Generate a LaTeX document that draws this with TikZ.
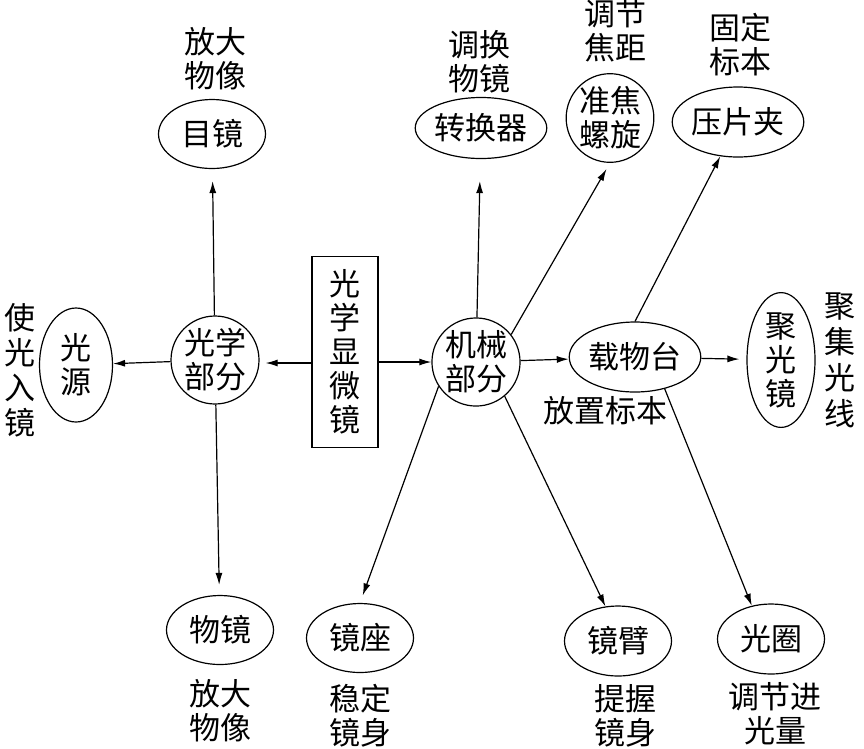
\documentclass[tikz,border=0pt]{standalone}
\usepackage{fontspec}
\setmainfont{Noto Sans CJK SC}
\usetikzlibrary{arrows.meta}
\usetikzlibrary{shapes.geometric}
\tikzset{
	x=1pt, y=-1pt,
	every path/.style = {line width=1.2pt},
	every node/.style = {inner sep=0pt, align=center, font=\fontsize{31pt}{34pt}\selectfont},
	part/.style = {draw, circle, minimum size=88pt},
	organ/.style = {draw, ellipse, minimum width=107pt, minimum height=69pt},
	upright/.style = {draw, ellipse, minimum width=70pt, minimum height=113pt},
	arr/.style = {-{Latex[length=12pt,width=7pt]}}
}
\begin{document}
\begin{tikzpicture}
	\useasboundingbox (0,0) rectangle (864,748);
	% centre parts
	\node (micro) [draw, minimum width=66pt, minimum height=191pt] at (345,352) {光\\学\\显\\微\\镜};
	\node (optic) [part] at (215,360) {光学\\部分};
	\node (mech) [part] at (476,362) {机械\\部分};
	% optical side
	\node (eyep) [organ] at (212,134) {目镜};
	\node (objv) [organ] at (220,630) {物镜};
	\node (lamp) [upright, minimum width=73pt, minimum height=114pt] at (76,365) {光\\源};
	% mechanical side
	\node (turret) [organ, minimum width=106pt, minimum height=61pt] at (481,128) {转换器};
	\node (focus) [organ, minimum width=87pt, minimum height=83pt] at (610,118) {准焦\\螺旋};
	\node (clip) [organ, minimum width=108pt, minimum height=70pt] at (738,122) {压片夹};
	\node (stage) [organ, minimum width=106pt, minimum height=70pt] at (635,357) {载物台};
	\node (cond) [upright, minimum width=68pt] at (781,360) {聚\\光\\镜};
	\node (base) [organ] at (360,638) {镜座};
	\node (arm) [organ, minimum height=70pt] at (618,641) {镜臂};
	\node (iris) [organ, minimum height=70pt] at (771,639) {光圈};
	% uses
	\node (eyepuse) at (215,59) {放大\\物像};
	\node (objvuse) at (220,711) {放大\\物像};
	\node (lampuse) [font=\fontsize{31pt}{35pt}\selectfont] at (20,370) {使\\光\\入\\镜};
	\node (turretuse) at (479,62) {调换\\物镜};
	\node (focususe) at (615,31) {调节\\焦距};
	\node (clipuse) at (740,45) {固定\\标本};
	\node (stageuse) at (605,411) {放置标本};
	\node (conduse) [font=\fontsize{31pt}{36pt}\selectfont] at (840,360) {聚\\集\\光\\线};
	\node (baseuse) at (360,716) {稳定\\镜身};
	\node (armuse) at (625,716) {提握\\镜身};
	\node (irisuse) at (775,714) {调节进\\光量};
	% arrows
	\draw[arr, shorten >=6pt] (micro.west |- 0,363) -- (optic.east |- 0,363);
	\draw[arr] (micro.east |- 0,362) -- (mech);
	\draw[arr] (optic) -- (lamp);
	\draw[arr, shorten >=12pt] (optic) -- (eyep);
	\draw[arr, shorten >=10pt] (optic) -- (objv);
	\draw[arr, shorten >=22pt] (mech) -- (turret);
	\draw[arr, shorten >=7pt] (mech.38) -- (focus.south);
	\draw[arr, shorten >=8pt] (mech.213) -- (base.north);
	\draw[arr] (mech.310) -- (arm.110);
	\draw[arr] (mech) -- (stage);
	\draw[arr, shorten >=7pt] (stage) -- (cond);
	\draw[arr] (stage.north) -- (clip);
	\draw[arr] (stage.313) -- (iris.120);
\end{tikzpicture}
\end{document}
